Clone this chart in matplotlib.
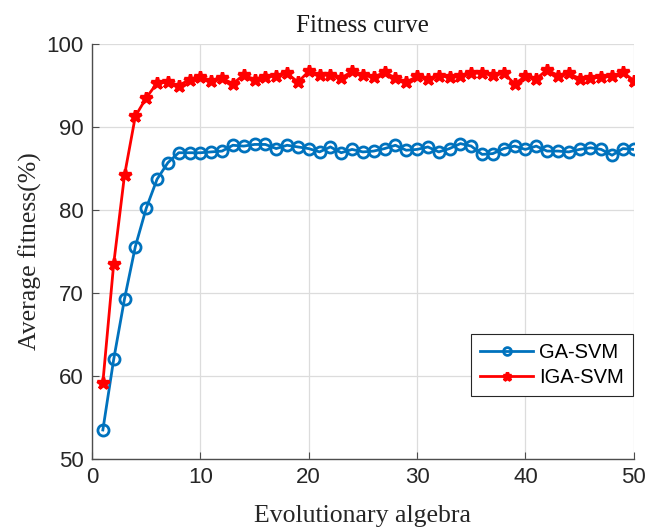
import matplotlib
matplotlib.use("Agg")
import matplotlib.pyplot as plt

# generations 1..50
generations = list(range(1, 51))

ga_svm = [53.5, 62.0, 69.3, 75.6, 80.2, 83.7, 85.7, 86.9, 86.9, 86.9,
          87.0, 87.1, 87.8, 87.7, 87.9, 87.9, 87.4, 87.8, 87.6, 87.4,
          87.0, 87.6, 86.9, 87.3, 87.0, 87.1, 87.4, 87.8, 87.2, 87.3,
          87.6, 87.0, 87.4, 88.0, 87.7, 86.7, 86.8, 87.4, 87.7, 87.3,
          87.7, 87.1, 87.1, 87.0, 87.3, 87.5, 87.3, 86.6, 87.4, 87.3]

iga_svm = [59.2, 73.5, 84.2, 91.3, 93.5, 95.3, 95.4, 95.0, 95.7, 96.0,
           95.6, 95.9, 95.2, 96.3, 95.7, 96.0, 96.2, 96.5, 95.4, 96.7,
           96.3, 96.3, 95.9, 96.7, 96.3, 96.0, 96.6, 95.9, 95.4, 96.1,
           95.8, 96.2, 96.0, 96.1, 96.5, 96.5, 96.3, 96.5, 95.2, 96.1,
           95.8, 96.9, 96.2, 96.5, 95.8, 95.9, 96.0, 96.1, 96.6, 95.6]

fig = plt.figure(figsize=(6.48, 5.27), dpi=100)
ax = fig.add_axes([0.142, 0.129, 0.836, 0.7875])

ax.plot(generations, ga_svm, color="#0072BD", linewidth=2, marker="o",
        markersize=8, markerfacecolor="none", markeredgewidth=2, label="GA-SVM")
ax.plot(generations, iga_svm, color="red", linewidth=2, marker="*",
        markersize=9, markeredgewidth=2.4, label="IGA-SVM")

ax.set_xlim(0, 50)
ax.set_ylim(50, 100)
ax.set_xticks([0, 10, 20, 30, 40, 50])
ax.set_yticks([50, 60, 70, 80, 90, 100])
ax.grid(True, color="#dcdcdc", linewidth=0.9)
ax.set_axisbelow(True)

for side in ("top", "right"):
    ax.spines[side].set_visible(False)
for side in ("left", "bottom"):
    ax.spines[side].set_color("#4d4d4d")
    ax.spines[side].set_linewidth(1.0)

ax.tick_params(direction="in", length=5, color="#4d4d4d", labelcolor="#262626",
               labelsize=16, pad=6)
for lab in ax.get_xticklabels() + ax.get_yticklabels():
    lab.set_family("Liberation Sans")

serif = "Liberation Serif"
ax.set_title("Fitness curve", fontsize=18, family=serif, color="#1a1a1a", pad=9)
ax.set_xlabel("Evolutionary algebra", fontsize=18.5, family=serif, color="#262626", labelpad=12)
ax.set_ylabel("Average fitness(%)", fontsize=18.5, family=serif, color="#262626", labelpad=3)

leg = ax.legend(loc="upper right", bbox_to_anchor=(0.998, 0.302),
                prop={"family": "Liberation Sans", "size": 14.5},
                fancybox=False, framealpha=1, edgecolor="#262626",
                handlelength=2.6, handletextpad=0.3, borderpad=0.45,
                labelspacing=0.3, borderaxespad=0.0, markerscale=0.7)
leg.get_frame().set_linewidth(0.8)

fig.savefig("out.png", dpi=100)
